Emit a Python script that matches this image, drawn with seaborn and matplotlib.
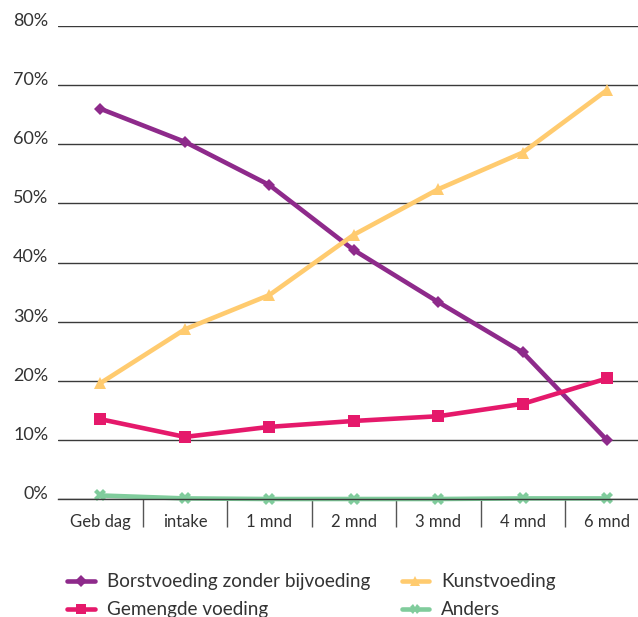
import matplotlib
matplotlib.use("Agg")
import matplotlib.pyplot as plt
import seaborn as sns
import pandas as pd
from matplotlib.ticker import FixedLocator, PercentFormatter

# Meetmomenten en percentages per voedingsvorm
momenten = ["Geb dag", "intake", "1 mnd", "2 mnd", "3 mnd", "4 mnd", "6 mnd"]
borstvoeding = [66.0, 60.4, 53.1, 42.1, 33.3, 24.8, 9.9]
kunstvoeding = [19.6, 28.7, 34.5, 44.7, 52.4, 58.6, 69.2]
gemengd = [13.5, 10.5, 12.2, 13.2, 14.0, 16.1, 20.4]
anders = [0.6, 0.1, 0.0, 0.0, 0.0, 0.1, 0.1]

series = {
    "Borstvoeding zonder bijvoeding": borstvoeding,
    "Kunstvoeding": kunstvoeding,
    "Gemengde voeding": gemengd,
    "Anders": anders,
}
kleuren = {
    "Borstvoeding zonder bijvoeding": "#8E2A8B",
    "Kunstvoeding": "#FFCB6F",
    "Gemengde voeding": "#E5196B",
    "Anders": "#80CC9C",
}
markers = {
    "Borstvoeding zonder bijvoeding": "D",
    "Kunstvoeding": "^",
    "Gemengde voeding": "s",
    "Anders": "X",
}

df = pd.DataFrame(
    [(m, naam, v) for naam, vals in series.items() for m, v in zip(momenten, vals)],
    columns=["moment", "voeding", "pct"],
)

sns.set_style("white")
plt.rcParams["font.family"] = ["Lato", "DejaVu Sans"]
tekst = "#333333"

fig = plt.figure(figsize=(6.38, 6.17), dpi=100)
ax = fig.add_axes([58.2 / 638, 118 / 617, 591.3 / 638, 473 / 617])

sns.lineplot(
    data=df, x="moment", y="pct", hue="voeding", style="voeding",
    palette=kleuren, markers=markers, dashes=False, sort=False,
    linewidth=3.3, markersize=8, markeredgewidth=0, ax=ax, legend=False,
)
for line in ax.lines:
    line.set_clip_on(False)
    if line.get_marker() == "D":
        line.set_markersize(6.5)
    elif line.get_marker() == "^":
        line.set_markersize(9)

ax.set_xlim(-0.5, 6.5)
ax.set_ylim(0, 80)
ax.set_xlabel("")
ax.set_ylabel("")

ax.yaxis.set_major_locator(FixedLocator(range(0, 81, 10)))
ax.yaxis.set_major_formatter(PercentFormatter(decimals=0))
ax.grid(axis="y", color="#3a3a3a", linewidth=1.0)
ax.grid(axis="x", visible=False)
ax.set_axisbelow(True)
for s in ["top", "right", "left"]:
    ax.spines[s].set_visible(False)
ax.spines["bottom"].set_color("#3a3a3a")
ax.spines["bottom"].set_linewidth(1.0)

ax.tick_params(axis="y", length=0, pad=7, labelsize=13, labelcolor=tekst)
for lab in ax.get_yticklabels():
    lab.set_verticalalignment("baseline")
ax.tick_params(axis="x", which="major", bottom=True, length=0, pad=11,
               labelsize=12, labelcolor=tekst)
ax.xaxis.set_minor_locator(FixedLocator([0.5, 1.5, 2.5, 3.5, 4.5, 5.5]))
ax.tick_params(axis="x", which="minor", bottom=True, length=20, width=1.0,
               color="#555555", direction="out")

volgorde = ["Borstvoeding zonder bijvoeding", "Gemengde voeding", "Kunstvoeding", "Anders"]
handles = [
    plt.Line2D([], [], color=kleuren[n], marker=markers[n], lw=3.3,
               markersize=6.5, markeredgewidth=0)
    for n in volgorde
]
fig.legend(
    handles, volgorde, ncol=2, loc="upper left", bbox_to_anchor=(58 / 638, 1 - 564 / 617),
    frameon=False, fontsize=13.6, labelcolor=tekst, handlelength=1.45,
    handletextpad=0.65, columnspacing=1.65, labelspacing=0.58, borderpad=0,
)

fig.savefig("out.png", dpi=100)
